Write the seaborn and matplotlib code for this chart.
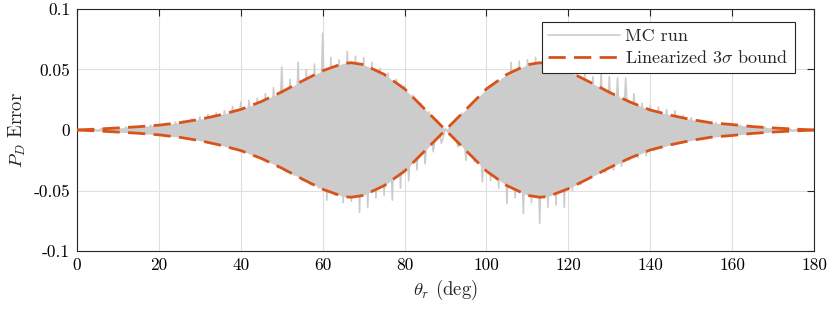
import matplotlib
matplotlib.use("Agg")
import matplotlib.pyplot as plt
import seaborn as sns
import numpy as np

# Linearized 3-sigma bound, every 5 deg
bound_theta = [0, 5, 10, 15, 20, 25, 30, 35, 40, 45, 50, 55, 60, 65, 67, 70, 75, 80, 85, 90,
               95, 100, 105, 110, 113, 115, 120, 125, 130, 135, 140, 145, 150, 155, 160, 165, 170, 175, 180]
bound_val = [0.0, 0.0008, 0.0017, 0.0027, 0.0040, 0.0060, 0.0088, 0.0125, 0.0170, 0.0235,
             0.0315, 0.0405, 0.0490, 0.0550, 0.0556, 0.0540, 0.0460, 0.0340, 0.0170, 0.0,
             0.0170, 0.0340, 0.0460, 0.0540, 0.0556, 0.0550, 0.0485, 0.0400, 0.0312, 0.0232,
             0.0165, 0.0122, 0.0086, 0.0059, 0.0045, 0.0028, 0.0017, 0.0008, 0.0]

# one MC run, sampled every degree (estimated from the gray band's spikes)
mc_theta = list(range(0, 181))
mc_err = [
    0.0, -0.0002, 0.0003, -0.0005, 0.0007, -0.0008, 0.0011, -0.0010, 0.0015, -0.0014,
    0.0019, -0.0018, 0.0024, -0.0022, 0.0029, -0.0026, 0.0035, -0.0031, 0.0041, -0.0035,
    0.0047, -0.0042, 0.0056, -0.0050, 0.0066, -0.0058, 0.0079, -0.0068, 0.0092, -0.0080,
    0.0110, -0.0092, 0.0128, -0.0106, 0.0142, -0.0120, 0.0160, -0.0141, 0.0195, -0.0158,
    0.0230, -0.0185, 0.0245, -0.0215, 0.0262, -0.0238, 0.0300, -0.0270, 0.0350, -0.0310,
    0.0520, -0.0345, 0.0420, -0.0375, 0.0560, -0.0420, 0.0500, -0.0455, 0.0545, -0.0480,
    0.0800, -0.0580, 0.0600, -0.0540, 0.0580, -0.0600, 0.0650, -0.0590, 0.0610, -0.0680,
    0.0600, -0.0640, 0.0560, -0.0560, 0.0510, -0.0540, 0.0470, -0.0580, 0.0420, -0.0480,
    0.0360, -0.0420, 0.0290, -0.0330, 0.0220, -0.0280, 0.0150, -0.0180, 0.0080, -0.0110,
    0.0010, -0.0040, 0.0055, -0.0140, 0.0140, -0.0250, 0.0190, -0.0260, 0.0250, -0.0430,
    0.0300, -0.0420, 0.0360, -0.0480, 0.0420, -0.0610, 0.0560, -0.0560, 0.0570, -0.0690,
    0.0580, -0.0600, 0.0600, -0.0770, 0.0600, -0.0640, 0.0590, -0.0620, 0.0570, -0.0640,
    0.0540, -0.0500, 0.0500, -0.0450, 0.0470, -0.0400, 0.0440, -0.0360, 0.0480, -0.0350,
    0.0440, -0.0330, 0.0430, -0.0300, 0.0430, -0.0250, 0.0300, -0.0230, 0.0220, -0.0210,
    0.0200, -0.0170, 0.0190, -0.0140, 0.0170, -0.0110, 0.0160, -0.0085, 0.0120, -0.0075,
    0.0100, -0.0065, 0.0085, -0.0058, 0.0070, -0.0052, 0.0060, -0.0046, 0.0052, -0.0040,
    0.0046, -0.0035, 0.0040, -0.0030, 0.0034, -0.0026, 0.0028, -0.0022, 0.0023, -0.0018,
    0.0018, -0.0015, 0.0014, -0.0011, 0.0010, -0.0008, 0.0006, -0.0005, 0.0004, -0.0002,
    0.0,
]

x_ticks = [0, 20, 40, 60, 80, 100, 120, 140, 160, 180]
y_ticks = [-0.1, -0.05, 0, 0.05, 0.1]
y_tick_labels = ["-0.1", "-0.05", "0", "0.05", "0.1"]

MC_GRAY = "#cccccc"
ORANGE = "#d95319"
AX_COLOR = "#262626"
DASH = [6.2, 3.0]

sns.set_theme(style="white")
plt.rcParams["font.family"] = ["cmr10", "DejaVu Serif"]
plt.rcParams["mathtext.fontset"] = "cm"
plt.rcParams["axes.unicode_minus"] = False
plt.rcParams["axes.formatter.use_mathtext"] = True

fig = plt.figure(figsize=(8.3, 3.1), dpi=100)
ax = fig.add_axes([0.0928, 0.1903, 0.888, 0.7807])

# dense band of MC runs
bt = np.array(bound_theta)
bv = np.array(bound_val)
ax.fill_between(bt, -bv, bv, color=MC_GRAY, lw=0, zorder=2)
sns.lineplot(x=mc_theta, y=mc_err, ax=ax, color=MC_GRAY, lw=1.2,
             estimator=None, label="MC run", zorder=3)

# linearized 3-sigma bound (upper and lower)
sns.lineplot(x=bound_theta, y=bound_val, ax=ax, color=ORANGE, lw=2.0,
             estimator=None, label=r"Linearized 3$\sigma$ bound", zorder=4)
ax.lines[-1].set_dashes(DASH)
sns.lineplot(x=bound_theta, y=[-v for v in bound_val], ax=ax, color=ORANGE,
             lw=2.0, estimator=None, zorder=4)
ax.lines[-1].set_dashes(DASH)

ax.set_xlim(0, 180)
ax.set_ylim(-0.1, 0.1)
ax.set_xticks(x_ticks)
ax.set_xticklabels([str(t) for t in x_ticks])
ax.set_yticks(y_ticks)
ax.set_yticklabels(y_tick_labels)

ax.grid(True, color="#dfdfdf", lw=0.8, zorder=0)
ax.set_axisbelow(True)
for s in ax.spines.values():
    s.set_color(AX_COLOR)
    s.set_linewidth(0.8)
ax.tick_params(direction="in", length=5, width=0.8, color=AX_COLOR,
               top=True, right=True, labelsize=12.5, labelcolor="black", pad=5)

ax.set_xlabel(r"$\theta_r$ (deg)", fontsize=13.5, labelpad=3)
ax.set_ylabel(r"$P_D$ Error", fontsize=13.5, labelpad=4)

leg = ax.legend(loc="upper right", bbox_to_anchor=(0.974, 0.946), fontsize=13,
                frameon=True, fancybox=False, handlelength=3.95, borderpad=0.35,
                labelspacing=0.3, handletextpad=0.3, borderaxespad=0)
leg.get_frame().set_edgecolor(AX_COLOR)
leg.get_frame().set_linewidth(0.8)
leg.get_frame().set_alpha(1.0)

fig.savefig("out.png", dpi=100)
